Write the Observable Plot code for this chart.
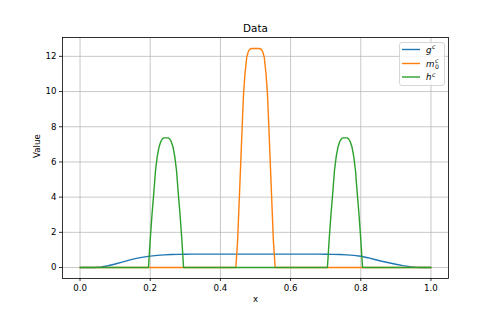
<!DOCTYPE html>
<html>
<head>
<meta charset="utf-8">
<script src="https://cdn.jsdelivr.net/npm/d3@7"></script>
<script src="https://cdn.jsdelivr.net/npm/@observablehq/plot@0.6"></script>
<style>
  html, body { margin: 0; padding: 0; background: white; }
</style>
</head>
<body>
<div id="chart"></div>
<script>
// ---- data ----
const xTicks = [0, 0.2, 0.4, 0.6, 0.8, 1.0];
const yTicks = [0, 2, 4, 6, 8, 10, 12];
const seriesNames = ["g", "m", "h"];
const seriesColors = ["#1f77b4", "#ff7f0e", "#2ca02c"];

const gX = [0, 0.04, 0.06, 0.08, 0.10, 0.12, 0.14, 0.16, 0.18, 0.20, 0.22, 0.24, 0.26, 0.28, 0.30, 0.32,
            0.68, 0.70, 0.72, 0.74, 0.76, 0.78, 0.80, 0.82, 0.84, 0.86, 0.88, 0.90, 0.92, 0.94, 0.96, 0.97, 1.0];
const gY = [0, 0, 0.03, 0.10, 0.20, 0.31, 0.42, 0.52, 0.59, 0.65, 0.69, 0.72, 0.74, 0.75, 0.755, 0.76,
            0.76, 0.755, 0.75, 0.74, 0.72, 0.69, 0.64, 0.56, 0.46, 0.36, 0.27, 0.19, 0.11, 0.05, 0.01, 0, 0];

const mX = [0, 0.444, 0.449, 0.454, 0.458, 0.463, 0.466, 0.470, 0.475, 0.480, 0.485, 0.490, 0.510, 0.515,
            0.520, 0.525, 0.530, 0.534, 0.537, 0.542, 0.546, 0.551, 0.556, 1.0];
const mY = [0, 0, 1.5, 4.0, 6.0, 8.5, 9.9, 11.0, 11.95, 12.3, 12.42, 12.45, 12.45, 12.42,
            12.3, 11.95, 11.0, 9.9, 8.5, 6.0, 4.0, 1.5, 0, 0];

const hX = [0, 0.195, 0.200, 0.205, 0.210, 0.215, 0.220, 0.225, 0.230, 0.235, 0.240, 0.250, 0.255, 0.260,
            0.265, 0.270, 0.275, 0.280, 0.285, 0.290, 0.295,
            0.705, 0.710, 0.715, 0.720, 0.725, 0.730, 0.735, 0.740, 0.745, 0.750, 0.760, 0.765, 0.770,
            0.775, 0.780, 0.785, 0.790, 0.795, 0.800, 0.805, 1.0];
const hY = [0, 0, 1.6, 3.0, 4.2, 5.5, 6.3, 6.85, 7.15, 7.32, 7.37, 7.37, 7.32, 7.15,
            6.85, 6.3, 5.5, 4.2, 3.0, 1.6, 0,
            0, 1.6, 3.0, 4.2, 5.5, 6.3, 6.85, 7.15, 7.32, 7.37, 7.37, 7.32, 7.15,
            6.85, 6.3, 5.5, 4.2, 3.0, 1.6, 0, 0];

// ---- build table ----
const rows = [];
gX.forEach((x, i) => rows.push({series: "g", x, y: gY[i]}));
mX.forEach((x, i) => rows.push({series: "m", x, y: mY[i]}));
hX.forEach((x, i) => rows.push({series: "h", x, y: hY[i]}));

const yMax = 12.45;
const pad = 0.05 * yMax;

const font = "DejaVu Sans, sans-serif";

const svg = Plot.plot({
  width: 498,
  height: 312,
  marginLeft: 62,
  marginRight: 50,
  marginTop: 37,
  marginBottom: 34,
  style: {fontFamily: font, fontSize: "8.65px", background: "white", color: "black", overflow: "visible"},
  x: {domain: [-0.05, 1.05]},
  y: {domain: [-pad, yMax + pad]},
  color: {domain: seriesNames, range: seriesColors},
  marks: [
    Plot.gridX(xTicks, {stroke: "#b0b0b0", strokeOpacity: 1, strokeWidth: 0.7}),
    Plot.gridY(yTicks, {stroke: "#b0b0b0", strokeOpacity: 1, strokeWidth: 0.7}),
    Plot.line(rows, {x: "x", y: "y", z: "series", stroke: "series", strokeWidth: 1.4}),
    Plot.frame({stroke: "black", strokeWidth: 0.8}),
    Plot.axisX({ticks: xTicks, tickFormat: d3.format(".1f"), tickSize: 3, tickPadding: 3, label: null, strokeWidth: 0.8}),
    Plot.axisY({ticks: yTicks, tickFormat: d3.format("d"), tickSize: 3, tickPadding: 3, label: null, strokeWidth: 0.8}),
    Plot.text(["x"], {frameAnchor: "bottom", dy: 21, lineAnchor: "middle", fill: "black"}),
    Plot.text(["Value"], {frameAnchor: "left", dx: -25, rotate: -90, fill: "black"}),
    Plot.text(["Data"], {frameAnchor: "top", dy: -9, lineAnchor: "middle", fontSize: 10.4, fill: "black"})
  ]
});

document.getElementById("chart").appendChild(svg);

// ---- legend (inside the axes, upper right) ----
const root = d3.select(svg);
const lg = root.append("g").attr("font-family", font).attr("font-size", 8.65).attr("text-anchor", "start");
lg.append("rect")
  .attr("x", 399.5).attr("y", 42.5).attr("width", 45).attr("height", 43)
  .attr("rx", 2.5).attr("fill", "white").attr("fill-opacity", 0.8)
  .attr("stroke", "#cccccc").attr("stroke-width", 0.8);
const entryY = [49.5, 63.5, 77];
seriesNames.forEach((name, i) => {
  const yy = entryY[i];
  lg.append("line").attr("x1", 402).attr("x2", 420).attr("y1", yy).attr("y2", yy)
    .attr("stroke", seriesColors[i]).attr("stroke-width", 1.4);
  const t = lg.append("text").attr("x", 426).attr("y", yy + 3).attr("font-style", "italic").attr("fill", "black").text(name);
  let w = t.node().getComputedTextLength();
  if (!w) w = name === "m" ? 8.6 : 5.5;
  lg.append("text").attr("x", 426 + w + 0.6).attr("y", yy - 0.3).attr("font-size", 6.2)
    .attr("font-style", "italic").attr("fill", "black").text("c");
  if (name === "m") {
    lg.append("text").attr("x", 426 + w + 0.6).attr("y", yy + 5.2).attr("font-size", 6.2)
      .attr("fill", "black").text("0");
  }
});
</script>
</body>
</html>
